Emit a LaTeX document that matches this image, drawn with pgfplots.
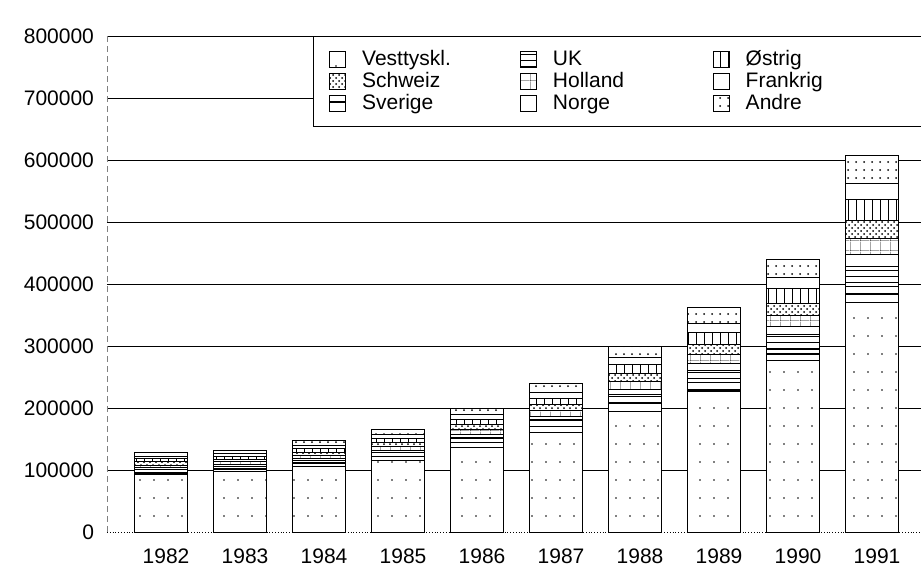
\documentclass[border=0pt]{standalone}
\usepackage{fontspec}
\setmainfont{Liberation Sans}
\usepackage{pgfplots}
\usepackage{pgfplotstable}
\pgfplotsset{compat=1.18}
\usetikzlibrary{patterns,patterns.meta}

\tikzdeclarepattern{name=sparsedots, type=uncolored,
  bounding box={(-1pt,-1pt) and (1pt,1pt)}, tile size={(7pt,9pt)},
  code={\pgfpathcircle{\pgfpointorigin}{0.45pt}\pgfusepath{fill}}}
\tikzdeclarepattern{name=meddots, type=uncolored,
  bounding box={(-1pt,-1pt) and (1pt,1pt)}, tile size={(4pt,4pt)},
  code={\pgfpathcircle{\pgfpointorigin}{0.5pt}\pgfusepath{fill}}}
\tikzdeclarepattern{name=widehlines, type=uncolored,
  bounding box={(0pt,-0.5pt) and (1pt,0.5pt)}, tile size={(1pt,6pt)},
  code={\pgfsetlinewidth{0.6pt}\pgfpathmoveto{\pgfpoint{-0.1pt}{0pt}}\pgfpathlineto{\pgfpoint{1.1pt}{0pt}}\pgfusepath{stroke}}}
\tikzdeclarepattern{name=hlines, type=uncolored,
  bounding box={(0pt,-0.5pt) and (1pt,0.5pt)}, tile size={(1pt,3pt)},
  code={\pgfsetlinewidth{0.5pt}\pgfpathmoveto{\pgfpoint{-0.1pt}{0pt}}\pgfpathlineto{\pgfpoint{1.1pt}{0pt}}\pgfusepath{stroke}}}
\tikzdeclarepattern{name=vlines, type=uncolored,
  bounding box={(-0.5pt,0pt) and (0.5pt,1pt)}, tile size={(4pt,1pt)},
  code={\pgfsetlinewidth{0.5pt}\pgfpathmoveto{\pgfpoint{0pt}{-0.1pt}}\pgfpathlineto{\pgfpoint{0pt}{1.1pt}}\pgfusepath{stroke}}}
\tikzdeclarepattern{name=mygrid, type=uncolored,
  bounding box={(0pt,0pt) and (5pt,5pt)}, tile size={(5pt,5pt)},
  code={\pgfsetlinewidth{0.5pt}\pgfpathmoveto{\pgfpoint{0pt}{-0.1pt}}\pgfpathlineto{\pgfpoint{0pt}{5.1pt}}
        \pgfpathmoveto{\pgfpoint{-0.1pt}{0pt}}\pgfpathlineto{\pgfpoint{5.1pt}{0pt}}\pgfusepath{stroke}}}

\pgfplotstableread{
year vest   sverige uk    norge holland schweiz ostrig frankrig andre
0    92000  4000    5000  3000  4000    5000    5000   4000     7000
1    97000  4000    5000  3000  4000    4000    5000   4000     6000
2    105000 5000    6000  3000  5000    5000    6000   5000     8000
3    116000 5000    7000  4000  6000    6000    7000   6000     9000
4    137000 7000    9000  5000  7000    8000    9000   7000     11000
5    161000 9000    11000 6000  9000    9000    11000  9000     15000
6    195000 12000   15000 8000  12000   13000   15000  12000    18000
7    226000 15000   19000 11000 15000   16000   19000  15000    26000
8    277000 18000   23000 13000 18000   20000   23000  18000    30000
9    370000 26000   33000 19000 26000   29000   33000  26000    46000
}\data

\tikzset{
  sVest/.style={fill=white, postaction={pattern=sparsedots}},
  sSverige/.style={fill=white, postaction={pattern=widehlines}},
  sUK/.style={fill=white, postaction={pattern=hlines}},
  sNorge/.style={fill=white},
  sHolland/.style={fill=white, postaction={pattern=mygrid}},
  sSchweiz/.style={fill=white, postaction={pattern=crosshatch dots}},
  sOstrig/.style={fill=white, postaction={pattern=vlines}},
  sFrankrig/.style={fill=white},
  sAndre/.style={fill=white, postaction={pattern=meddots}},
}

\begin{document}
\begin{tikzpicture}
\begin{axis}[
  at={(0pt,0pt)}, anchor=south west,
  scale only axis, width=407pt, height=248pt,
  xmin=-0.684, xmax=9.62, ymin=0, ymax=800000,
  ybar stacked, bar width=26.5pt,
  xtick={0,...,9},
  xticklabels={1982,1983,1984,1985,1986,1987,1988,1989,1990,1991},
  ytick={100000,200000,...,800000},
  extra y ticks={0}, extra y tick style={grid=none},
  scaled y ticks=false,
  /pgf/number format/assume math mode=true,
  yticklabel style={/pgf/number format/fixed, /pgf/number format/1000 sep={}, xshift=-3pt},
  xticklabel style={yshift=-5pt, xshift=2.5pt},
  tick label style={font=\fontsize{10.5}{12}\selectfont},
  ymajorgrids, grid style={black, line width=0.5pt},
  axis x line*=bottom, axis y line*=left,
  x axis line style={densely dotted, -},
  y axis line style={densely dashed, gray, -},
  major tick length=0pt,
  every axis plot/.append style={draw=black, line width=0.5pt},
  legend columns=3, legend cell align=left,
  legend style={at={(0.253,1)}, anchor=north west, draw=black, line width=0.4pt,
    fill=white, inner xsep=8pt, inner ysep=6pt,
    font=\fontsize{10.5}{12}\selectfont,
    nodes={inner sep=1pt, text height=7.5pt, text depth=1.5pt},
    /tikz/every odd column/.append style={column sep=7pt}},
  legend image code/.code={\draw[#1, draw=black, line width=0.4pt] (0pt,-4pt) rectangle (8pt,4pt);},
]
\addplot[sVest, forget plot] table[x=year, y=vest] {\data};
\addplot[sSverige, forget plot] table[x=year, y=sverige] {\data};
\addplot[sUK, forget plot] table[x=year, y=uk] {\data};
\addplot[sNorge, forget plot] table[x=year, y=norge] {\data};
\addplot[sHolland, forget plot] table[x=year, y=holland] {\data};
\addplot[sSchweiz, forget plot] table[x=year, y=schweiz] {\data};
\addplot[sOstrig, forget plot] table[x=year, y=ostrig] {\data};
\addplot[sFrankrig, forget plot] table[x=year, y=frankrig] {\data};
\addplot[sAndre, forget plot] table[x=year, y=andre] {\data};

\addlegendimage{sVest}\addlegendentry{\makebox[78pt][l]{Vesttyskl.}}
\addlegendimage{sUK}\addlegendentry{\makebox[79pt][l]{UK}}
\addlegendimage{sOstrig}\addlegendentry{\makebox[82pt][l]{Østrig}}
\addlegendimage{sSchweiz}\addlegendentry{Schweiz}
\addlegendimage{sHolland}\addlegendentry{Holland}
\addlegendimage{sFrankrig}\addlegendentry{Frankrig}
\addlegendimage{sSverige}\addlegendentry{Sverige}
\addlegendimage{sNorge}\addlegendentry{Norge}
\addlegendimage{sAndre}\addlegendentry{Andre}

\node[anchor=base west, font=\fontsize{10.5}{12}\selectfont, inner sep=0pt] at (rel axis cs:0,1) [yshift=3.5pt, xshift=1pt] {I 1000 kr};
\end{axis}
\pgfresetboundingbox
\path[use as bounding box] (-53.5pt,-19pt) rectangle (407pt,266pt);
\end{tikzpicture}
\end{document}
